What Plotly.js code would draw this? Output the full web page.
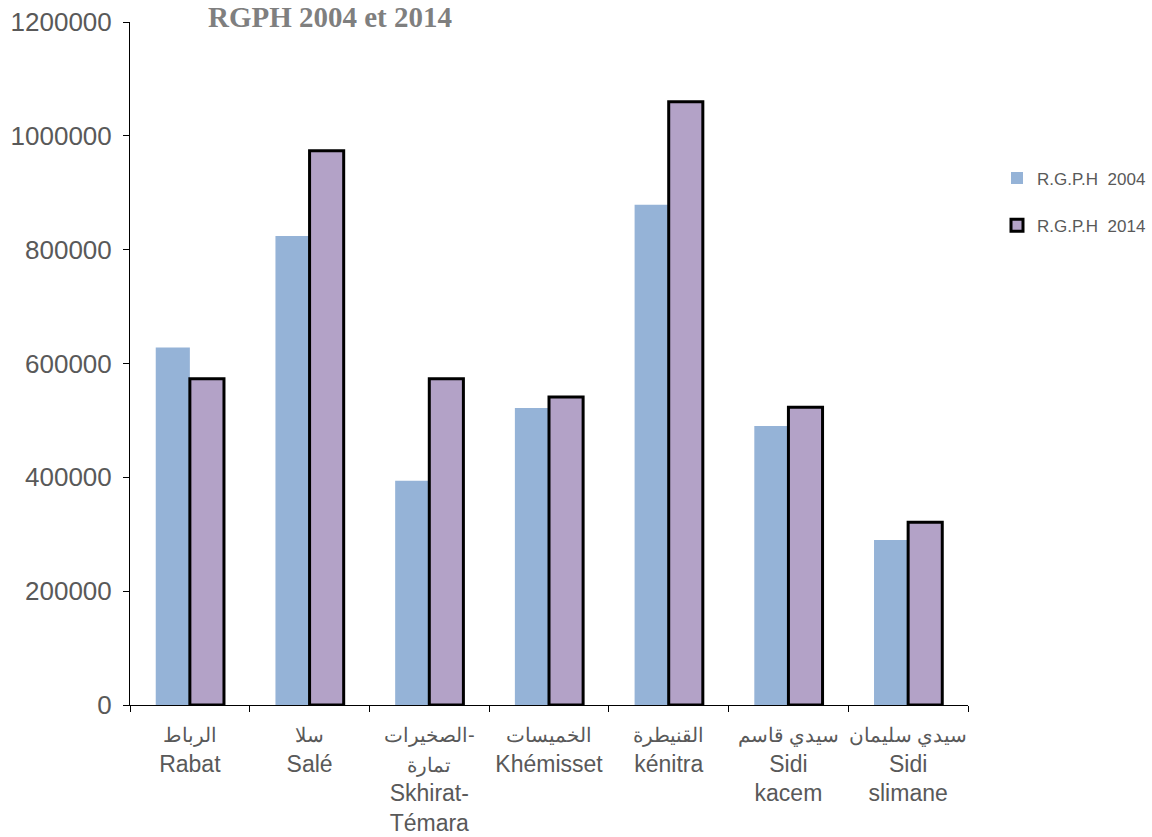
<!DOCTYPE html>
<html>
<head>
<meta charset="utf-8">
<script src="https://cdn.plot.ly/plotly-3.0.1.min.js"></script>
<style>html,body{margin:0;padding:0;background:#fff;}#chart{width:1152px;height:837px;}</style>
</head>
<body>
<div id="chart"></div>
<script>
const arabicNames = ["الرباط", "سلا", "الصخيرات-<br>تمارة", "الخميسات", "القنيطرة", "سيدي قاسم", "سيدي سليمان"];
const latinNames = ["Rabat", "Salé", "Skhirat-<br>Témara", "Khémisset", "kénitra", "Sidi<br>kacem", "Sidi<br>slimane"];
const rgph2004 = [628000, 824000, 394000, 522000, 879000, 490000, 290000];
const rgph2014 = [573000, 974000, 573000, 541000, 1060000, 523000, 321000];
const seriesNames = ["R.G.P.H\u00a0\u00a02004", "R.G.P.H\u00a0\u00a02014"];
const yTicks = [0, 200000, 400000, 600000, 800000, 1000000, 1200000];

const categories = arabicNames.map((a, i) =>
  a.split('<br>').map(s => '<span style="font-size:20px">' + s + '</span>').join('<br>') + '<br>' + latinNames[i]);

const gray = '#595959';
const data = [
  {type:'bar', x:categories, y:rgph2004, name:seriesNames[0], legendgroup:'a',
   marker:{color:'#95B3D7', line:{width:0}}, hoverinfo:'y'},
  {type:'bar', x:categories, y:rgph2014, name:seriesNames[1], legendgroup:'b',
   marker:{color:'#B3A2C7', line:{color:'#000', width:3}}, hoverinfo:'y'}
];
const layout = {
  width:1152, height:837,
  margin:{l:130, r:184, t:22, b:132},
  paper_bgcolor:'#fff', plot_bgcolor:'#fff',
  barmode:'group', bargap:0.43, bargroupgap:0,
  font:{family:'Liberation Sans, Arial, sans-serif', color:gray},
  title:{text:'<b>RGPH 2004 et 2014</b>', font:{family:'Liberation Serif, Times New Roman, serif', size:29, color:'#7f7f7f'},
         x:330/1152, xanchor:'center', xref:'container', y:1-7/837, yanchor:'top', yref:'container'},
  xaxis:{type:'category', automargin:false, showline:true, linecolor:'#000', linewidth:1, ticks:'outside', ticklen:6, tickcolor:'#000',
         tickson:'boundaries', showgrid:false, zeroline:false, tickangle:0, ticklabelstandoff:8,
         tickfont:{size:23, color:gray, family:'Liberation Sans, Arial, sans-serif'}},
  yaxis:{range:[0,1200000], automargin:false, tickvals:yTicks, ticktext:yTicks.map(String), showline:true, linecolor:'#000', linewidth:1,
         ticks:'outside', ticklen:6, tickcolor:'#000', showgrid:false, zeroline:false, ticklabelstandoff:6,
         tickfont:{size:26, color:gray, family:'Liberation Sans, Arial, sans-serif'}},
  showlegend:true,
  legend:{xref:'container', yref:'container', x:997/1152, xanchor:'left', y:1-202/837, yanchor:'middle',
          traceorder:'grouped', tracegroupgap:22,
          font:{size:17, color:gray}, bgcolor:'rgba(0,0,0,0)'}
};
Plotly.newPlot('chart', data, layout, {displayModeBar:false, staticPlot:true});
</script>
</body>
</html>
